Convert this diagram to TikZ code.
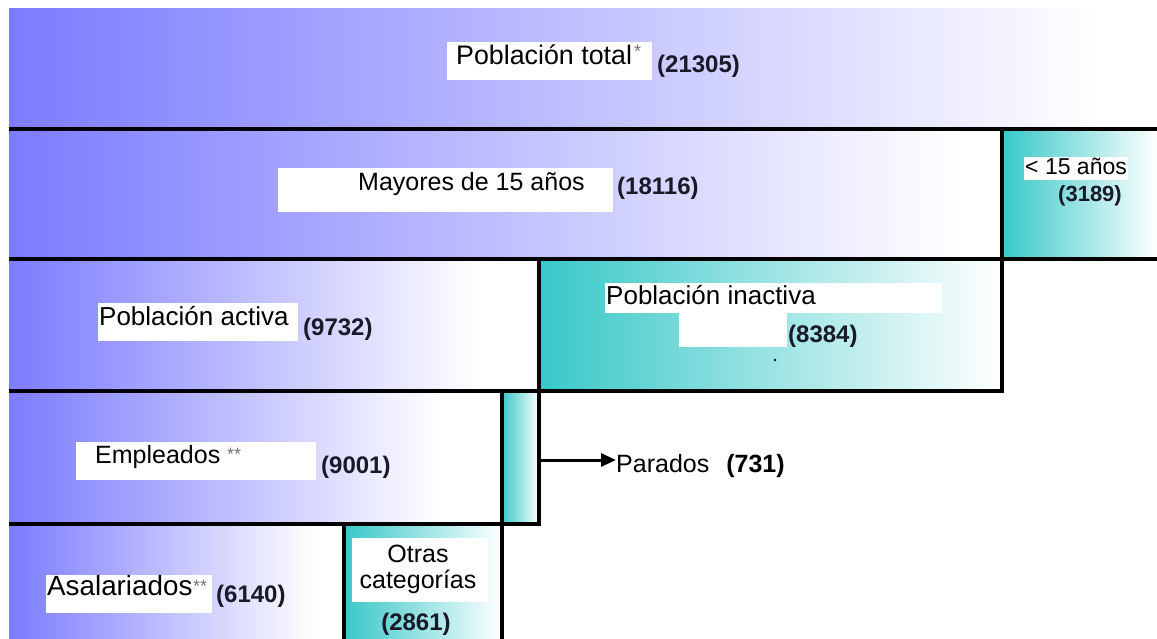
\documentclass[tikz,border=0pt]{standalone}
\usepackage{fontspec}
\setmainfont{Liberation Sans}
\usetikzlibrary{arrows.meta}
\definecolor{bl}{RGB}{124,124,255}
\definecolor{tl}{RGB}{56,200,200}
\definecolor{numc}{RGB}{25,25,40}
\tikzset{
  lbl/.style={font=\fontsize{25}{30}\selectfont, inner sep=0pt, anchor=base west},
  num/.style={font=\fontsize{24}{28}\selectfont\bfseries, text=numc, inner sep=0pt, anchor=base west},
  ast/.style={font=\fontsize{18}{20}\selectfont, text=black!55, inner sep=0pt, anchor=base west},
  wbox/.style={fill=white},
  sepline/.style={line width=4pt, black},
  blueshade/.style={left color=bl, right color=white},
  tealshade/.style={left color=tl, right color=white},
  arr/.style={line width=3pt, -{Triangle[length=15pt,width=13pt]}}
}
\begin{document}
\begin{tikzpicture}[x=1pt,y=-1pt]
\useasboundingbox (0,0) rectangle (1157,639);
\fill[white] (0,0) rectangle (1157,639);
% shaded regions
\shade[blueshade] (9,9) rectangle (1100,129);
\shade[blueshade] (9,129) rectangle (960,259);
\shade[tealshade] (1002,129) rectangle (1157,259);
\shade[blueshade] (9,259) rectangle (480,391);
\shade[tealshade] (539,259) rectangle (1002,391);
\shade[blueshade] (9,391) rectangle (440,524);
\shade[tealshade] (502,391) rectangle (539,524);
\shade[blueshade] (9,524) rectangle (315,639);
\shade[tealshade] (344,524) rectangle (502,639);
% white label backgrounds
\fill[wbox] (447,42) rectangle (652,80);
\fill[wbox] (278,168) rectangle (613,212);
\fill[wbox] (1024,157) rectangle (1128,180);
\fill[wbox] (98,303) rectangle (298,341);
\fill[wbox] (605,283) rectangle (942,313);
\fill[wbox] (679,313) rectangle (787,347);
\fill[wbox] (76,442) rectangle (316,480);
\fill[wbox] (46,575) rectangle (212,613);
\fill[wbox] (352,538) rectangle (488,602);
% separating lines
\draw[sepline] (9,129) -- (1157,129);
\draw[sepline] (9,259) -- (1157,259);
\draw[sepline] (9,391) -- (1002,391);
\draw[sepline] (9,524) -- (539,524);
\draw[sepline] (1002,127) -- (1002,393);
\draw[sepline] (539,257) -- (539,526);
\draw[sepline] (502,389) -- (502,639);
\draw[sepline] (344,522) -- (344,639);
% labels
\node[lbl, font=\fontsize{26.8}{30}\selectfont] (tot) at (456,65) {Población total};
\node[ast] (totast) at (634,58) {*};
\node[num] (totn) at (657,73) {(21305)};
\node[lbl] (may) at (358,191) {Mayores de 15 años};
\node[num] (mayn) at (617,195) {(18116)};
\node[lbl, font=\fontsize{23}{28}\selectfont] (men) at (1025,175) {< 15 años};
\node[num, font=\fontsize{22}{26}\selectfont\bfseries] (menn) at (1058,202) {(3189)};
\node[lbl, font=\fontsize{26}{30}\selectfont] (act) at (99,325) {Población activa};
\node[num] (actn) at (303,335) {(9732)};
\node[lbl, font=\fontsize{26}{30}\selectfont] (ina) at (606,305) {Población inactiva};
\node[num] (inan) at (788,342) {(8384)};
\fill[black] (775,360) circle (1.3);
\node[lbl] (emp) at (95,463) {Empleados};
\node[ast] (empast) at (227,460) {**};
\node[num] (empn) at (321,473) {(9001)};
\node[lbl] (par) at (616,472) {Parados\hspace{17pt}\textbf{(731)}};
\coordinate (parS) at (539,460);
\draw[arr] (parS) -- (parS -| par.west);
\node[lbl, font=\fontsize{27.8}{32}\selectfont] (asa) at (47,595) {Asalariados};
\node[ast] (asaast) at (193,592) {**};
\node[num] (asan) at (216,602) {(6140)};
\node[lbl, anchor=base] (otr1) at (418,562) {Otras};
\node[lbl, anchor=base] (otr2) at (418,588) {categorías};
\node[num, anchor=base] (otrn) at (416,630) {(2861)};
\end{tikzpicture}
\end{document}
